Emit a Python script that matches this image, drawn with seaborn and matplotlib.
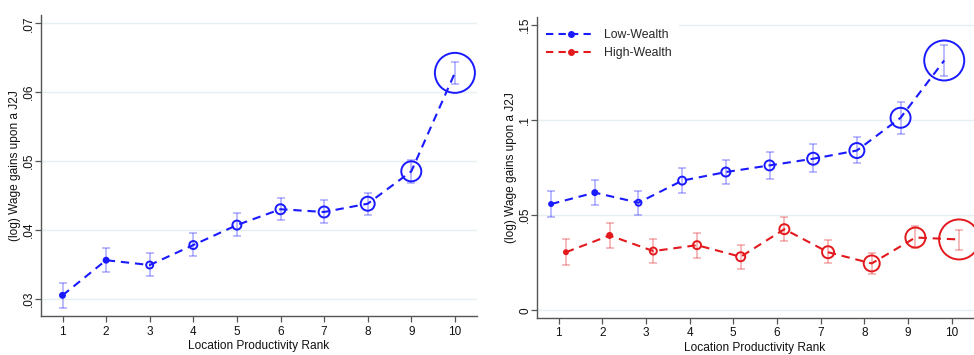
import numpy as np
import pandas as pd
import matplotlib
matplotlib.use("Agg")
import matplotlib.pyplot as plt
from matplotlib.lines import Line2D
import seaborn as sns

sns.set_theme(style="white")
plt.rcParams['font.family'] = ['Liberation Sans', 'DejaVu Sans']

# ---------------- data ----------------
ranks = [1, 2, 3, 4, 5, 6, 7, 8, 9, 10]

# Left panel: all workers
all_est = [0.0305, 0.0356, 0.0349, 0.0378, 0.0407, 0.0430, 0.0426, 0.0438, 0.0485, 0.0628]
all_lo = [0.0287, 0.0339, 0.0333, 0.0362, 0.0391, 0.0414, 0.0410, 0.0422, 0.0468, 0.0612]
all_hi = [0.0323, 0.0373, 0.0366, 0.0395, 0.0424, 0.0447, 0.0443, 0.0454, 0.0502, 0.0644]
all_weight = [5, 5, 7, 8, 9, 10, 11, 14, 20, 40]

# Right panel: by wealth
low_est = [0.0558, 0.0618, 0.0565, 0.0681, 0.0726, 0.0761, 0.0796, 0.0839, 0.1011, 0.1312]
low_lo = [0.0489, 0.0553, 0.0502, 0.0618, 0.0663, 0.0691, 0.0726, 0.0774, 0.0926, 0.1232]
low_hi = [0.0628, 0.0686, 0.0628, 0.0746, 0.0789, 0.0832, 0.0872, 0.0909, 0.1093, 0.1395]
low_weight = [4, 5, 6, 8, 9, 10, 12, 15, 20, 40]

high_est = [0.0305, 0.0393, 0.0311, 0.0342, 0.0281, 0.0426, 0.0305, 0.0246, 0.0382, 0.0372]
high_lo = [0.0237, 0.0326, 0.0246, 0.0277, 0.0219, 0.0363, 0.0246, 0.0189, 0.0325, 0.0318]
high_hi = [0.0374, 0.0458, 0.0374, 0.0405, 0.0342, 0.0489, 0.0367, 0.0300, 0.0442, 0.0423]
high_weight = [4, 5, 7, 8, 9, 10, 12, 16, 20, 40]

left_yticks = [0.03, 0.04, 0.05, 0.06, 0.07]
left_yticklabels = [".03", ".04", ".05", ".06", ".07"]
right_yticks = [0.0, 0.05, 0.10, 0.15]
right_yticklabels = ["0", ".05", ".1", ".15"]
series_names = ["Low-Wealth", "High-Wealth"]
xlabel = "Location Productivity Rank"
ylabel = "(log) Wage gains upon a J2J"

BLUE = "#1a1aff"
RED = "#e3191e"
GRID = "#e6eff1"
AXC = "#555555"

W, H = 974, 355
fig = plt.figure(figsize=(W / 100, H / 100), dpi=100)

ax1 = fig.add_axes([40.7 / W, (H - 316) / H, (476.7 - 40.7) / W, (316 - 15) / H])
ax2 = fig.add_axes([536.7 / W, (H - 317.7) / H, (973.5 - 536.7) / W, (317.7 - 16.7) / H])


def px_to_s(d):
    return (np.asarray(d) * 0.72) ** 2


def draw_series(ax, x, est, lo, hi, weight, color):
    df = pd.DataFrame({"x": x, "y": est, "w": px_to_s(weight)})
    est = np.asarray(est)
    ax.errorbar(x, est, yerr=[est - np.asarray(lo), np.asarray(hi) - est], fmt="none",
                ecolor=color, alpha=0.35, elinewidth=1.2, capsize=2.8, capthick=1.2, zorder=2)
    sns.lineplot(data=df, x="x", y="y", ax=ax, color=color, linewidth=1.5,
                 linestyle=(0, (4, 2.8)), zorder=3, legend=False)
    small = np.asarray(weight) <= 5
    faces = [color if sm else "none" for sm in small]
    ax.scatter(df["x"], df["y"], s=df["w"], facecolors=faces, edgecolors=color,
               linewidths=1.4, zorder=4, clip_on=False)


# Left panel
draw_series(ax1, np.array(ranks, float), all_est, all_lo, all_hi, all_weight, BLUE)
ax1.set_xlim(0.5, 10.5)
ax1.set_ylim(0.0275, 0.0712)
ax1.set_yticks(left_yticks)
ax1.set_yticklabels(left_yticklabels)

# Right panel
off = 0.17
draw_series(ax2, np.array(ranks, float) - off, low_est, low_lo, low_hi, low_weight, BLUE)
draw_series(ax2, np.array(ranks, float) + off, high_est, high_lo, high_hi, high_weight, RED)
ax2.set_xlim(0.5, 10.5)
ax2.set_ylim(-0.0039, 0.1542)
ax2.set_yticks(right_yticks)
ax2.set_yticklabels(right_yticklabels)

for ax in (ax1, ax2):
    ax.set_xticks(ranks)
    ax.set_xticklabels([str(r) for r in ranks])
    ax.set_facecolor("white")
    for yt in ax.get_yticks():
        ax.axhline(yt, color=GRID, linewidth=1.0, zorder=0)
    for s in ("top", "right"):
        ax.spines[s].set_visible(False)
    for s in ("left", "bottom"):
        ax.spines[s].set_color(AXC)
        ax.spines[s].set_linewidth(1.0)
    ax.tick_params(axis="both", which="major", length=4, width=0.9, color=AXC,
                   labelsize=8.5, labelcolor="#111111", direction="out",
                   left=True, bottom=True)
    ax.tick_params(axis="x", pad=3)
    ax.tick_params(axis="y", pad=0)
    for lab in ax.get_yticklabels():
        lab.set_rotation(90)
        lab.set_va("center")
    ax.set_xlabel(xlabel, fontsize=8.6, color="#111111", labelpad=2)
    ax.set_ylabel(ylabel, fontsize=8.6, color="#111111", labelpad=1.5)

handles = [Line2D([0], [0], color=BLUE, linestyle=(0, (3.5, 2.5)), linewidth=1.5,
                  marker="o", markersize=4),
           Line2D([0], [0], color=RED, linestyle=(0, (3.5, 2.5)), linewidth=1.5,
                  marker="o", markersize=4)]
leg = ax2.legend(handles, series_names, loc="upper left", bbox_to_anchor=(0.0, 0.99),
                 frameon=True, fontsize=8.8, handlelength=4.0, handletextpad=0.7,
                 borderaxespad=0.3, labelspacing=0.45, borderpad=0.5)
leg.get_frame().set_facecolor("white")
leg.get_frame().set_edgecolor("white")
leg.get_frame().set_alpha(1.0)
leg.set_zorder(10)

fig.savefig("out.png", dpi=100, facecolor="white")
